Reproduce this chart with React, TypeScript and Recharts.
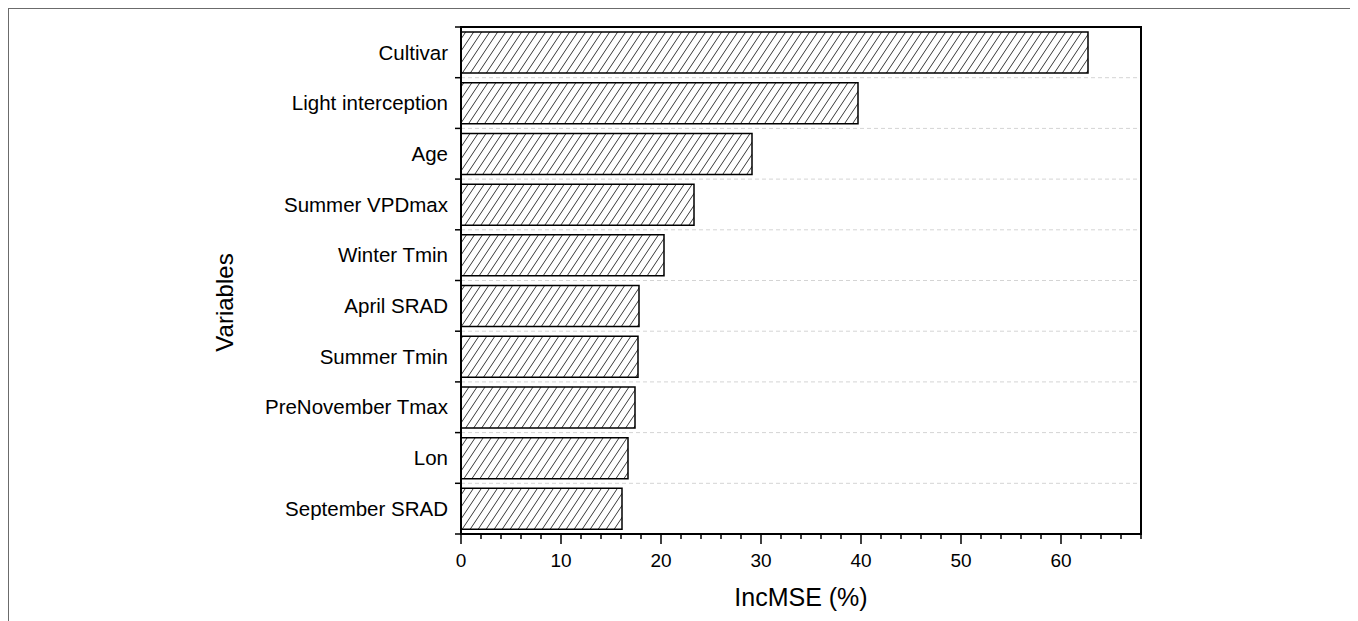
import React from "react";
import {
  BarChart,
  Bar,
  XAxis,
  YAxis,
  CartesianGrid,
  ReferenceArea,
} from "recharts";

// variable importance from the random forest, top to bottom
const variables = [
  "Cultivar",
  "Light interception",
  "Age",
  "Summer VPDmax",
  "Winter Tmin",
  "April SRAD",
  "Summer Tmin",
  "PreNovember Tmax",
  "Lon",
  "September SRAD",
];
const incMSE = [62.7, 39.7, 29.1, 23.3, 20.3, 17.8, 17.7, 17.4, 16.7, 16.1];

const xTicks = [
  0, 2, 4, 6, 8, 10, 12, 14, 16, 18, 20, 22, 24, 26, 28, 30, 32, 34, 36, 38,
  40, 42, 44, 46, 48, 50, 52, 54, 56, 58, 60, 62, 64, 66, 68,
];
const xLabelTicks = [0, 10, 20, 30, 40, 50, 60];
const xDomain = [0, 68];

const FONT = "'Liberation Sans', Arial, Helvetica, sans-serif";
const CHART_W = 1347;
const CHART_H = 640;
const PLOT_H = 507;
const HATCH_W = 8;
const HATCH_H = 12;

const chartData = variables.map((name, i) => ({ name, value: incMSE[i] }));

function XTick(props: any) {
  const { x, y, payload } = props;
  const major = xLabelTicks.includes(payload.value);
  return (
    <g>
      <line
        x1={x}
        x2={x}
        y1={y}
        y2={y + (major ? 10 : 5)}
        stroke="#000"
        strokeWidth={1.5}
      />
      {major && (
        <text
          x={x}
          y={y + 33}
          textAnchor="middle"
          fontSize={19}
          fontFamily={FONT}
          fill="#000"
        >
          {payload.value}
        </text>
      )}
    </g>
  );
}

function YTick(props: any) {
  const { x, y, payload, index } = props;
  const half = PLOT_H / variables.length / 2;
  return (
    <g>
      {index === 0 && (
        <line x1={x - 6} x2={x} y1={y - half} y2={y - half} stroke="#000" strokeWidth={1.5} />
      )}
      <line x1={x - 6} x2={x} y1={y + half} y2={y + half} stroke="#000" strokeWidth={1.5} />
      <text
        x={x - 13}
        y={y}
        dy="0.35em"
        textAnchor="end"
        fontSize={20.5}
        fontFamily={FONT}
        fill="#000"
      >
        {payload.value}
      </text>
    </g>
  );
}

function XTitle(props: any) {
  const { viewBox } = props;
  return (
    <text
      x={viewBox.x + viewBox.width / 2}
      y={viewBox.y + 72}
      textAnchor="middle"
      fontSize={25}
      fontFamily={FONT}
      fill="#000"
    >
      IncMSE (%)
    </text>
  );
}

function YTitle(props: any) {
  const { viewBox } = props;
  const cx = viewBox.x + 224;
  const cy = viewBox.y + viewBox.height / 2 + 22;
  return (
    <text
      x={cx}
      y={cy}
      transform={`rotate(-90, ${cx}, ${cy})`}
      textAnchor="middle"
      fontSize={24}
      fontFamily={FONT}
      fill="#000"
    >
      Variables
    </text>
  );
}

export default function App() {
  const w = HATCH_W;
  const h = HATCH_H;
  return (
    <div
      style={{
        width: CHART_W,
        height: CHART_H,
        border: "1px solid #6b6b6b",
        background: "#fff",
      }}
    >
      <BarChart
        width={CHART_W}
        height={CHART_H}
        data={chartData}
        layout="vertical"
        barCategoryGap="10%"
        margin={{ top: 18, right: 215, bottom: 0, left: 0 }}
      >
        <defs>
          <pattern id="hatch" patternUnits="userSpaceOnUse" width={w} height={h}>
            <rect width={w} height={h} fill="#fff" />
            <path
              d={`M0,${h} L${w},0 M${-w},${h} L0,0 M${w},${h} L${2 * w},0`}
              stroke="#222"
              strokeWidth={0.9}
            />
          </pattern>
        </defs>
        <CartesianGrid
          vertical={false}
          stroke="#d4d4d4"
          strokeDasharray="4 3"
          horizontalCoordinatesGenerator={({ offset }: any) =>
            variables.map(
              (_, i) => offset.top + ((i + 1) * offset.height) / variables.length,
            )
          }
        />
        <XAxis
          type="number"
          domain={xDomain}
          ticks={xTicks}
          interval={0}
          height={CHART_H - 18 - PLOT_H}
          tickSize={0}
          tickMargin={0}
          tickLine={false}
          axisLine={{ stroke: "#000", strokeWidth: 2 }}
          tick={<XTick />}
          label={<XTitle />}
        />
        <YAxis
          type="category"
          dataKey="name"
          width={452}
          interval={0}
          tickSize={0}
          tickMargin={0}
          tickLine={false}
          axisLine={{ stroke: "#000", strokeWidth: 2 }}
          tick={<YTick />}
          label={<YTitle />}
        />
        <Bar
          dataKey="value"
          fill="url(#hatch)"
          stroke="#000"
          strokeWidth={1.5}
          isAnimationActive={false}
        />
        <ReferenceArea
          x1={xDomain[0]}
          x2={xDomain[1]}
          fill="none"
          stroke="#000"
          strokeWidth={2}
          ifOverflow="visible"
        />
      </BarChart>
    </div>
  );
}
